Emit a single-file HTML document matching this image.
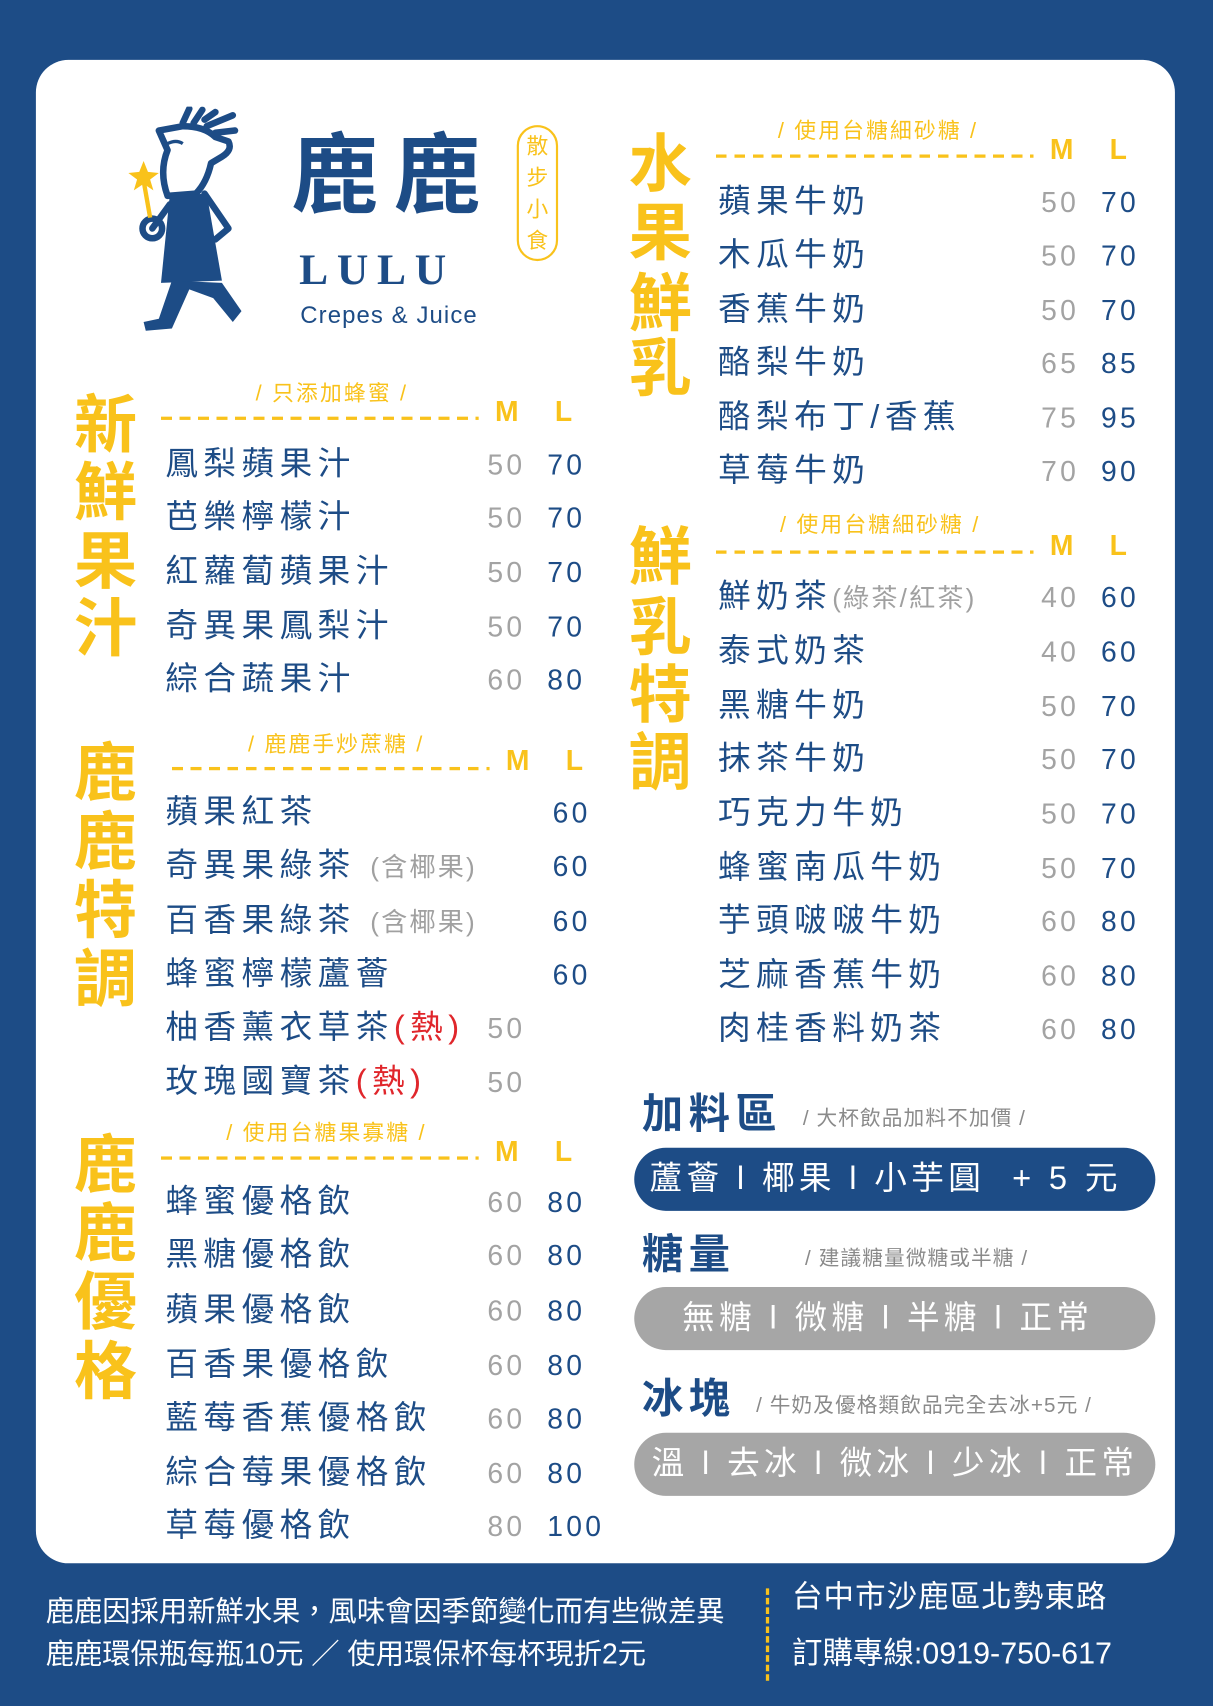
<!DOCTYPE html>
<html><head><meta charset="utf-8">
<style>
html,body{margin:0;padding:0;}
body{width:1213px;height:1706px;background:#1d4c86;overflow:hidden;font-family:"Liberation Sans","Noto Sans CJK TC",sans-serif;}
#wrap{position:absolute;left:0;top:0;width:1115px;height:1568px;transform:scale(1.08789);transform-origin:0 0;}
.card{position:absolute;left:33px;top:55px;width:1047px;height:1382px;background:#fff;border-radius:30px;}
.a{position:absolute;white-space:nowrap;line-height:1;}
.vt{position:absolute;color:#f9c21b;font-size:58px;font-weight:bold;line-height:1;}
.sub{position:absolute;color:#f9c21b;font-size:20px;letter-spacing:2px;line-height:1;white-space:nowrap;}
.dash{position:absolute;height:3px;background:repeating-linear-gradient(90deg,#f9c21b 0 10px,transparent 10px 17px);}
.ml{position:absolute;color:#f9c21b;font-size:26px;font-weight:bold;line-height:1;}
.item{position:absolute;color:#1d4c86;font-size:30px;letter-spacing:5px;line-height:1;white-space:nowrap;}
.pm{position:absolute;color:#a3a3a3;font-size:26px;letter-spacing:3px;line-height:1;}
.pl{position:absolute;color:#1d4c86;font-size:26px;letter-spacing:3px;line-height:1;}
.note{color:#a0a0a0;font-size:24px;letter-spacing:2px;}
.hot{color:#e0262b;}
.pill{position:absolute;left:583px;width:479px;height:58px;border-radius:29px;color:#fff;font-size:30px;line-height:58px;white-space:nowrap;letter-spacing:4px;overflow:hidden;}
.hd{position:absolute;color:#1d4c86;font-size:38px;font-weight:bold;line-height:1;letter-spacing:5px;}
.hs{position:absolute;color:#8a8a8a;font-size:19px;letter-spacing:1px;line-height:1;white-space:nowrap;}
.ft{position:absolute;color:#fff;white-space:nowrap;line-height:1;}
</style></head>
<body>
<div id="wrap">
<div class="card"></div>

<svg class="a" style="left:118px;top:98px" width="130" height="212" viewBox="0 0 130 212">
 <g fill="none" stroke="#1d4c86" stroke-width="6" stroke-linecap="round" stroke-linejoin="round">
  <path d="M50 15 L56 2 M60 15 L68 3 M70 12 L80 5 M72 18 L96 8 M80 24 L98 22"/>
  <path d="M28 22 L50 18 Q70 18 80 28 L92 32 Q96 40 86 46 L76 52 Q72 70 62 80 L36 82 Q28 60 36 40 Z"/>
  <path d="M38 90 L22 112 M70 80 L92 112 L80 122"/>
  <circle cx="22" cy="112" r="9"/>
 </g>
 <path d="M36 34 q8 -4 14 0" stroke="#1d4c86" stroke-width="3" fill="none"/>
 <path d="M38 82 L72 80 L86 160 L30 162 Z" fill="#1d4c86"/>
 <path d="M40 160 L28 195 L14 198 L16 206 L40 204 L56 168 L78 176 L96 198 L104 188 L86 162 Z" fill="#1d4c86"/>
 <polygon points="14,50 18,60 28,61 20,67 23,77 14,71 5,77 8,67 0,61 10,60" fill="#f9c21b"/>
 <line x1="14" y1="68" x2="20" y2="102" stroke="#f9c21b" stroke-width="4"/>
</svg>
<div class="a" style="left:268px;top:122px;font-size:80px;font-weight:bold;color:#1d4c86;letter-spacing:14px">鹿鹿</div>
<div class="a" style="left:275px;top:228px;font-size:40px;font-weight:bold;color:#1d4c86;font-family:'Liberation Serif',serif;letter-spacing:8px">LULU</div>
<div class="a" style="left:276px;top:279px;font-size:22px;color:#1d4c86;letter-spacing:1px">Crepes &amp; Juice</div>
<div class="a" style="left:475px;top:115px;width:38px;height:125px;border:2px solid #f9c21b;border-radius:20px;color:#f9c21b;font-size:20px;line-height:29px;text-align:center;padding-top:4px;box-sizing:border-box">散<br>步<br>小<br>食</div>

<div id="menu"></div>

<div class="hd" style="left:590px;top:1006px">加料區</div>
<div class="hs" style="left:738px;top:1019px">/ 大杯飲品加料不加價 /</div>
<div class="pill" style="top:1055px;background:#1d4c86;padding-left:14px;box-sizing:border-box">蘆薈 l 椰果 l 小芋圓 &nbsp;+ 5 元</div>
<div class="hd" style="left:590px;top:1135px">糖量</div>
<div class="hs" style="left:740px;top:1148px">/ 建議糖量微糖或半糖 /</div>
<div class="pill" style="top:1183px;background:#a6a6a6;padding-left:44px;box-sizing:border-box">無糖 l 微糖 l 半糖 l 正常</div>
<div class="hd" style="left:590px;top:1268px">冰塊</div>
<div class="hs" style="left:695px;top:1283px">/ 牛奶及優格類飲品完全去冰+5元 /</div>
<div class="pill" style="top:1317px;background:#a6a6a6;padding-left:16px;box-sizing:border-box">溫 l 去冰 l 微冰 l 少冰 l 正常</div>

<div class="ft" style="left:42px;top:1468px;font-size:26px">鹿鹿因採用新鮮水果，風味會因季節變化而有些微差異</div>
<div class="ft" style="left:42px;top:1507px;font-size:26px">鹿鹿環保瓶每瓶10元 ／ 使用環保杯每杯現折2元</div>
<div class="a" style="left:704px;top:1460px;height:85px;border-left:3px dashed #f9c21b"></div>
<div class="ft" style="left:728px;top:1454px;font-size:28px;letter-spacing:1px">台中市沙鹿區北勢東路</div>
<div class="ft" style="left:728px;top:1506px;font-size:28px">訂購專線:0919-750-617</div>
</div>
<script>
const sections=[
 {t:"新鮮果汁",tx:68,ty:[363,425,488,550],sub:"/ 只添加蜂蜜 /",sx:235,sy:352,dx:148,dw:292,dy:383,mx:455,lx:510,my:365,ix:152,pmx:448,plx:503,
  rows:[["鳳梨蘋果汁","50","70",428],["芭樂檸檬汁","50","70",477],["紅蘿蔔蘋果汁","50","70",527],["奇異果鳳梨汁","50","70",577],["綜合蔬果汁","60","80",626]]},
 {t:"鹿鹿特調",tx:68,ty:[683,746,809,872],sub:"/ 鹿鹿手炒蔗糖 /",sx:228,sy:675,dx:158,dw:292,dy:705,mx:465,lx:520,my:686,ix:152,pmx:448,plx:508,
  rows:[["蘋果紅茶","","60",748],["奇異果綠茶 <span class='note'>(含椰果)</span>","","60",797],["百香果綠茶 <span class='note'>(含椰果)</span>","","60",848],["蜂蜜檸檬蘆薈","","60",897],["柚香薰衣草茶<span class='hot'>(熱)</span>","50","",946],["玫瑰國寶茶<span class='hot'>(熱)</span>","50","",996]]},
 {t:"鹿鹿優格",tx:68,ty:[1043,1106,1169,1233],sub:"/ 使用台糖果寡糖 /",sx:208,sy:1032,dx:148,dw:292,dy:1063,mx:455,lx:510,my:1045,ix:152,pmx:448,plx:503,
  rows:[["蜂蜜優格飲","60","80",1106],["黑糖優格飲","60","80",1155],["蘋果優格飲","60","80",1206],["百香果優格飲","60","80",1256],["藍莓香蕉優格飲","60","80",1305],["綜合莓果優格飲","60","80",1355],["草莓優格飲","80","100",1404]]},
 {t:"水果鮮乳",tx:578,ty:[123,186,251,311],sub:"/ 使用台糖細砂糖 /",sx:715,sy:111,dx:658,dw:292,dy:142,mx:965,lx:1020,my:124,ix:660,pmx:957,plx:1012,
  rows:[["蘋果牛奶","50","70",187],["木瓜牛奶","50","70",236],["香蕉牛奶","50","70",286],["酪梨牛奶","65","85",335],["酪梨布丁/香蕉","75","95",385],["草莓牛奶","70","90",434]]},
 {t:"鮮乳特調",tx:578,ty:[484,549,611,673],sub:"/ 使用台糖細砂糖 /",sx:717,sy:473,dx:658,dw:292,dy:506,mx:965,lx:1020,my:488,ix:660,pmx:957,plx:1012,
  rows:[["鮮奶茶<span class='note'>(綠茶/紅茶)</span>","40","60",550],["泰式奶茶","40","60",600],["黑糖牛奶","50","70",650],["抹茶牛奶","50","70",699],["巧克力牛奶","50","70",749],["蜂蜜南瓜牛奶","50","70",799],["芋頭啵啵牛奶","60","80",848],["芝麻香蕉牛奶","60","80",898],["肉桂香料奶茶","60","80",947]]}
];
const menu=document.getElementById('menu');
function mk(cls,style,html){const d=document.createElement('div');d.className=cls;d.setAttribute('style',style);d.innerHTML=html;menu.appendChild(d);return d;}
sections.forEach((s,si)=>{
 [...s.t].forEach((c,ci)=>{
  const d=mk('vt',`left:${s.tx}px;top:${s.ty[ci]}px`,c);
  
  
 });
 let d=mk('sub',`left:${s.sx}px;top:${s.sy}px`,s.sub);
 
 
 d=mk('dash',`left:${s.dx}px;top:${s.dy}px;width:${s.dw}px`,'');
 
 
 d=mk('ml',`left:${s.mx}px;top:${s.my}px`,'M');
 
 
 d=mk('ml',`left:${s.lx}px;top:${s.my}px`,'L');
 
 
 s.rows.forEach(r=>{
  let e=mk('item',`left:${s.ix}px;top:${r[3]-16}px`,r[0]);
  
  
  if(r[1]){e=mk('pm',`left:${s.pmx}px;top:${r[3]-14}px`,r[1]);
  
  }
  if(r[2]){e=mk('pl',`left:${s.plx}px;top:${r[3]-14}px`,r[2]);
  
  }
 });
});
</script>
</body></html>
